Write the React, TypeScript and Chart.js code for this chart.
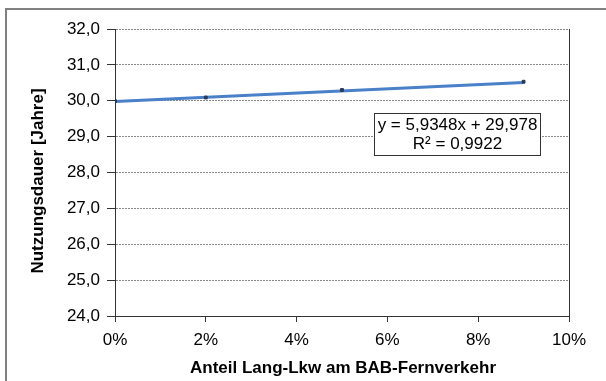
import React, { useEffect, useRef } from "react";
import { Chart, registerables } from "chart.js";

Chart.register(...registerables);

// Data
const shareLangLkw = [0, 0.02, 0.05, 0.09];
const serviceLife = [29.99, 30.09, 30.3, 30.53];
const xTickValues = [0, 0.02, 0.04, 0.06, 0.08, 0.1];
const yTickValues = [24, 25, 26, 27, 28, 29, 30, 31, 32];
const trendSlope = 5.9348;
const trendIntercept = 29.978;
const equationLines = ["y = 5,9348x + 29,978", "R² = 0,9922"];
const xTitle = "Anteil Lang-Lkw am BAB-Fernverkehr";
const yTitle = "Nutzungsdauer [Jahre]";

const FONT = "'Liberation Sans', Arial, sans-serif";

export default function App() {
  const ref = useRef<HTMLCanvasElement | null>(null);

  useEffect(() => {
    if (!ref.current) return;
    const points = shareLangLkw.map((x, i) => ({ x, y: serviceLife[i] }));
    const xs = [Math.min(...shareLangLkw), Math.max(...shareLangLkw)];
    const trend = xs.map((x) => ({ x, y: trendSlope * x + trendIntercept }));

    const decor = {
      id: "decor",
      afterDraw(chart: any) {
        const ctx = chart.ctx;
        const a = chart.chartArea;
        ctx.save();
        // outer chart border
        ctx.strokeStyle = "#808080";
        ctx.lineWidth = 2;
        ctx.beginPath();
        ctx.moveTo(6, 400);
        ctx.lineTo(6, 9);
        ctx.lineTo(620, 9);
        ctx.stroke();
        // right plot border
        ctx.strokeStyle = "#333";
        ctx.lineWidth = 1;
        ctx.beginPath();
        ctx.moveTo(Math.round(a.right) + 0.5, a.top);
        ctx.lineTo(Math.round(a.right) + 0.5, a.bottom);
        ctx.stroke();
        // equation box
        const bx = 374.5, by = 113.5, bw = 166, bh = 42;
        ctx.fillStyle = "#fff";
        ctx.fillRect(bx, by, bw, bh);
        ctx.strokeStyle = "#333";
        ctx.strokeRect(bx, by, bw, bh);
        ctx.fillStyle = "#000";
        ctx.font = `17px ${FONT}`;
        ctx.textAlign = "center";
        ctx.textBaseline = "middle";
        ctx.fillText(equationLines[0], bx + bw / 2, by + 11.5);
        ctx.fillText(equationLines[1], bx + bw / 2, by + 30.5);
        // axis titles
        ctx.font = `bold 17px ${FONT}`;
        ctx.fillText(xTitle, 343, 368);
        ctx.translate(38, 181);
        ctx.rotate(-Math.PI / 2);
        ctx.fillText(yTitle, 0, 0);
        ctx.restore();
      },
    };

    const chart = new Chart(ref.current, {
      type: "scatter",
      data: {
        datasets: [
          {
            type: "line",
            label: "Trend",
            data: trend,
            borderColor: "#4a80c8",
            borderWidth: 3,
            pointRadius: 0,
            fill: false,
            order: 2,
          } as any,
          {
            label: "Nutzungsdauer",
            data: points,
            backgroundColor: "#263a5a",
            borderColor: "#263a5a",
            pointStyle: "rect",
            pointRadius: 2,
            showLine: false,
            order: 1,
          },
        ],
      },
      options: {
        animation: false,
        responsive: false,
        maintainAspectRatio: false,
        layout: { padding: { top: 29, right: 37, left: 0, bottom: 0 } },
        plugins: {
          legend: { display: false },
          tooltip: { enabled: false },
        },
        scales: {
          x: {
            type: "linear",
            min: 0,
            max: 0.1,
            afterFit: (s: any) => {
              s.height = 65;
            },
            afterBuildTicks: (s: any) => {
              s.ticks = xTickValues.map((v) => ({ value: v }));
            },
            ticks: {
              color: "#000",
              font: { family: FONT, size: 17 },
              padding: 8,
              maxRotation: 0,
              callback: (v: any) => Math.round(Number(v) * 100) + "%",
            },
            grid: {
              drawOnChartArea: false,
              drawTicks: true,
              tickLength: 6,
              tickColor: "#333",
              tickWidth: 1,
            },
            border: { display: true, color: "#333", width: 1 },
          },
          y: {
            type: "linear",
            min: 24,
            max: 32,
            afterFit: (s: any) => {
              s.width = 115;
            },
            afterBuildTicks: (s: any) => {
              s.ticks = yTickValues.map((v) => ({ value: v }));
            },
            ticks: {
              color: "#000",
              font: { family: FONT, size: 17 },
              padding: 7,
              callback: (v: any) => Number(v).toFixed(1).replace(".", ","),
            },
            grid: {
              color: "#888",
              lineWidth: 1,
              drawTicks: true,
              tickLength: 8,
              tickColor: "#333",
              tickWidth: 1,
              tickBorderDash: [],
            } as any,
            border: { display: true, color: "#333", width: 1, dash: [2, 1] },
          },
        },
      },
      plugins: [decor],
    } as any);

    return () => chart.destroy();
  }, []);

  return (
    <div style={{ position: "fixed", left: 0, top: 0, width: 606, height: 381, background: "#fff" }}>
      <canvas ref={ref} width={606} height={381} style={{ display: "block" }} />
    </div>
  );
}
